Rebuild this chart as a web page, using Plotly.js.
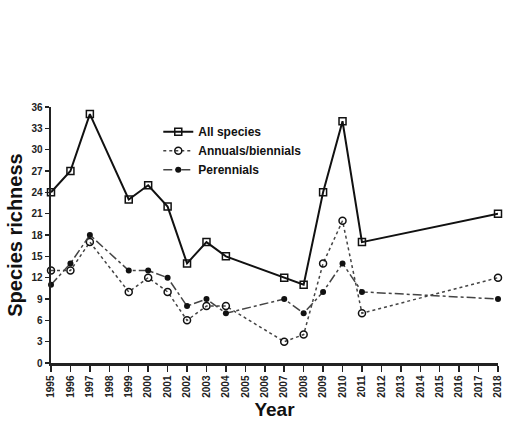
<!DOCTYPE html>
<html>
<head>
<meta charset="utf-8">
<script src="https://cdn.plot.ly/plotly-3.0.1.min.js"></script>
<style>html,body{margin:0;padding:0;background:#fff;}#chart{width:510px;height:424px;}</style>
</head>
<body>
<div id="chart"></div>
<script>
const years = [1995, 1996, 1997, 1999, 2000, 2001, 2002, 2003, 2004, 2007, 2008, 2009, 2010, 2011, 2018];
const allSpecies = [24, 27, 35, 23, 25, 22, 14, 17, 15, 12, 11, 24, 34, 17, 21];
const annuals = [13, 13, 17, 10, 12, 10, 6, 8, 8, 3, 4, 14, 20, 7, 12];
const perennials = [11, 14, 18, 13, 13, 12, 8, 9, 7, 9, 7, 10, 14, 10, 9];
const tickYears = [];
for (let y = 1995; y <= 2018; y++) tickYears.push(y);
const yTicks = [0, 3, 6, 9, 12, 15, 18, 21, 24, 27, 30, 33, 36];

const font = 'Liberation Sans, Arial, sans-serif';
const traces = [
  {x: years, y: allSpecies, name: 'All species', mode: 'lines+markers',
   line: {color: '#111', width: 2, dash: 'solid'},
   marker: {symbol: 'square-open', size: 7, color: '#111', line: {width: 1.5}}, cliponaxis: false},
  {x: years, y: annuals, name: 'Annuals/biennials', mode: 'lines+markers',
   line: {color: '#444', width: 1.5, dash: 'dot'},
   marker: {symbol: 'circle-open', size: 7, color: '#111', line: {width: 1.5}}, cliponaxis: false},
  {x: years, y: perennials, name: 'Perennials', mode: 'lines+markers',
   line: {color: '#444', width: 1.5, dash: 'dashdot'},
   marker: {symbol: 'circle', size: 6, color: '#111'}, cliponaxis: false}
];

const layout = {
  width: 510, height: 424,
  margin: {l: 51, r: 12, t: 107, b: 61},
  paper_bgcolor: '#fff', plot_bgcolor: '#fff',
  showlegend: true,
  legend: {x: 0.24, y: 0.96, xanchor: 'left', yanchor: 'top', bgcolor: 'rgba(0,0,0,0)',
    font: {family: font, size: 12, color: '#111', weight: 'bold'}, tracegroupgap: 0, itemwidth: 30},
  xaxis: {
    range: [1995, 2018], tickvals: tickYears, ticktext: tickYears.map(String),
    tickangle: -90, tickfont: {family: font, size: 10, color: '#222', weight: 'bold'},
    ticks: 'outside', ticklen: 6, tickwidth: 1.5, tickcolor: '#222',
    showline: true, linecolor: '#222', linewidth: 2.5, showgrid: false, zeroline: false,
    title: {text: 'Year', font: {family: font, size: 19, color: '#111', weight: 'bold'}, standoff: 6}
  },
  yaxis: {
    range: [0, 36], tickvals: yTicks,
    tickfont: {family: font, size: 10, color: '#222', weight: 'bold'},
    ticks: 'outside', ticklen: 4, tickwidth: 1.5, tickcolor: '#222',
    showline: true, linecolor: '#222', linewidth: 2.5, showgrid: false, zeroline: false,
    title: {text: 'Species richness', font: {family: font, size: 20, color: '#111', weight: 'bold'}, standoff: 4}
  }
};
Plotly.newPlot('chart', traces, layout, {displayModeBar: false, staticPlot: true});
</script>
</body>
</html>
